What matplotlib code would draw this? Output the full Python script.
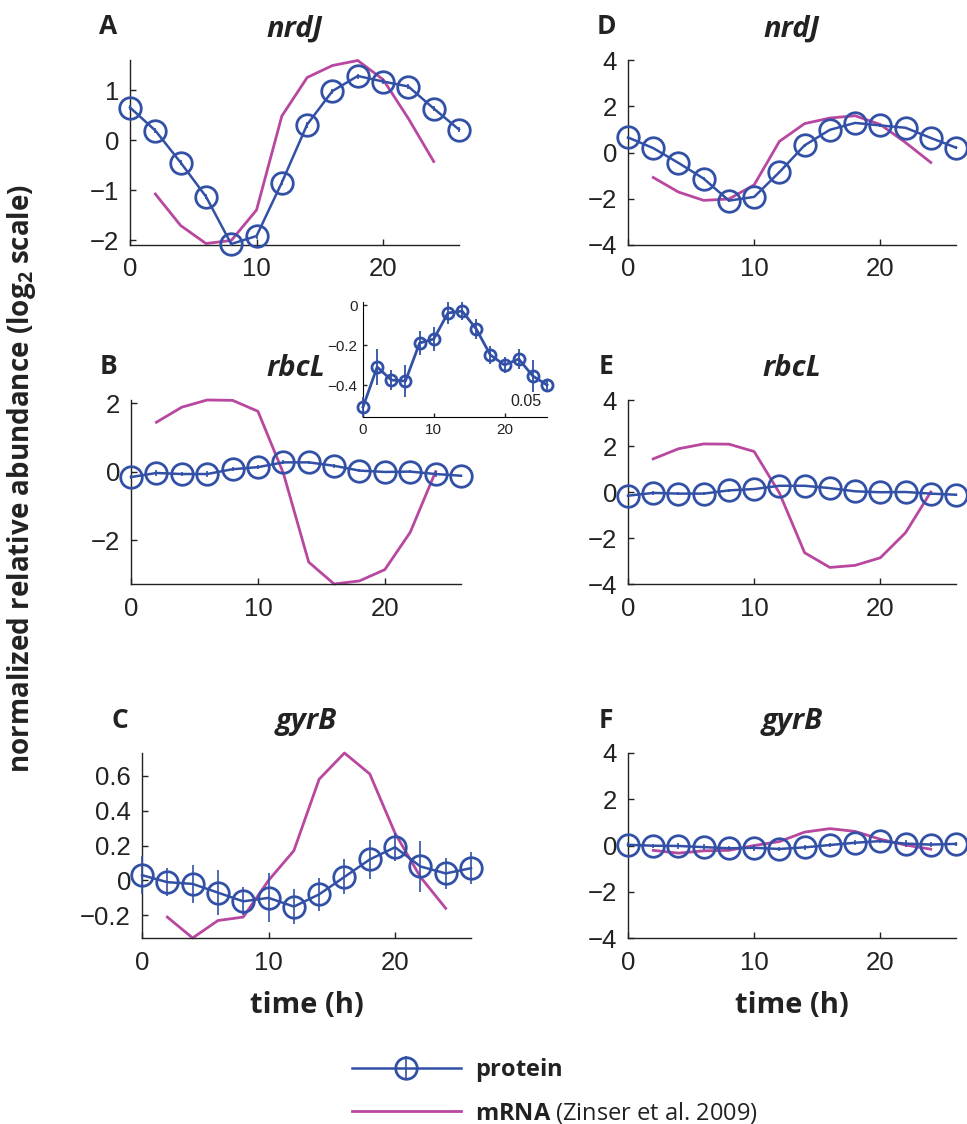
import matplotlib
matplotlib.use('Agg')
import matplotlib.pyplot as plt

# sampling times (h)
t_prot = [0, 2, 4, 6, 8, 10, 12, 14, 16, 18, 20, 22, 24, 26]
t_mrna = [2, 4, 6, 8, 10, 12, 14, 16, 18, 20, 22, 24]

# nrdJ
nrdj_prot = [0.65, 0.19, -0.45, -1.13, -2.08, -1.92, -0.85, 0.31, 0.98, 1.28, 1.17, 1.07, 0.63, 0.21]
nrdj_err = [0.05, 0.05, 0.05, 0.05, 0.04, 0.05, 0.05, 0.06, 0.05, 0.05, 0.05, 0.05, 0.05, 0.05]
nrdj_mrna = [-1.08, -1.71, -2.07, -2.01, -1.40, 0.48, 1.25, 1.49, 1.59, 1.21, 0.43, -0.43]

# rbcL
rbcl_prot = [-0.16, -0.04, -0.07, -0.07, 0.07, 0.13, 0.27, 0.27, 0.17, 0.03, -0.01, 0.0, -0.07, -0.12]
rbcl_err = [0.05, 0.09, 0.05, 0.08, 0.06, 0.06, 0.055, 0.045, 0.05, 0.045, 0.04, 0.05, 0.08, 0.03]
rbcl_mrna = [1.44, 1.88, 2.09, 2.08, 1.76, -0.04, -2.64, -3.28, -3.19, -2.86, -1.77, 0.0]

# rbcL protein, inset scale
inset_prot = [-0.51, -0.31, -0.375, -0.38, -0.19, -0.17, -0.04, -0.03, -0.12, -0.25, -0.30, -0.27, -0.355, -0.40]

# gyrB
gyrb_prot = [0.03, -0.01, -0.02, -0.07, -0.12, -0.10, -0.15, -0.08, 0.02, 0.12, 0.19, 0.08, 0.04, 0.07]
gyrb_err = [0.11, 0.08, 0.11, 0.13, 0.08, 0.14, 0.10, 0.095, 0.10, 0.11, 0.08, 0.145, 0.09, 0.09]
gyrb_mrna = [-0.21, -0.33, -0.23, -0.21, 0.0, 0.17, 0.58, 0.73, 0.61, 0.27, 0.02, -0.16]

blue = '#3251a6'
pink = '#b8479f'
ink = '#222222'
tick_font = 'Liberation Sans'
label_font = 'Open Sans'

plt.rcParams['mathtext.fontset'] = 'custom'
plt.rcParams['mathtext.rm'] = 'Open Sans'
plt.rcParams['mathtext.bf'] = 'Open Sans:bold'

W, H = 967, 1124
fig = plt.figure(figsize=(W / 100, H / 100), dpi=100)


def add_ax(left, top, right, bottom):
    return fig.add_axes([left / W, 1 - bottom / H, (right - left) / W, (bottom - top) / H])


def fmt(v):
    if v == 0:
        return '0'
    s = ('%g' % abs(v))
    return ('\u2212' + s) if v < 0 else s


def style(ax, yticks, ylim):
    ax.set_xlim(0, 26)
    ax.set_ylim(*ylim)
    ax.set_xticks([0, 10, 20])
    ax.set_yticks(yticks)
    ax.set_yticklabels([fmt(v) for v in yticks])
    for s in ['top', 'right']:
        ax.spines[s].set_visible(False)
    for s in ['left', 'bottom']:
        ax.spines[s].set_linewidth(1.0)
        ax.spines[s].set_color(ink)
    ax.tick_params(direction='in', length=4, width=1, colors=ink, labelsize=18.5)
    ax.tick_params(axis='x', pad=9)
    ax.tick_params(axis='y', pad=8)
    for lab in ax.get_xticklabels() + ax.get_yticklabels():
        lab.set_fontfamily(tick_font)


def draw(ax, prot, err, mrna, ms=15.5):
    h = ax.errorbar(t_prot, prot, yerr=err, color=blue, lw=1.8, marker='o', ms=ms,
                    mfc='none', mew=2.0, elinewidth=1.2, capsize=0, zorder=3)
    line, = ax.plot(t_mrna, mrna, color=pink, lw=2.0, zorder=2)
    return h, line


panels = [
    # letter, gene, prot, err, mrna, box, yticks, ylim
    ('A', 'nrdJ', nrdj_prot, nrdj_err, nrdj_mrna, (130, 60, 459, 245), [-2, -1, 0, 1], (-2.1, 1.6)),
    ('B', 'rbcL', rbcl_prot, rbcl_err, rbcl_mrna, (131, 400, 461, 584), [-2, 0, 2], (-3.28, 2.09)),
    ('C', 'gyrB', gyrb_prot, gyrb_err, gyrb_mrna, (142, 753, 471, 938), [-0.2, 0, 0.2, 0.4, 0.6], (-0.33, 0.73)),
    ('D', 'nrdJ', nrdj_prot, nrdj_err, nrdj_mrna, (628, 60, 956, 245), [-4, -2, 0, 2, 4], (-4, 4)),
    ('E', 'rbcL', rbcl_prot, rbcl_err, rbcl_mrna, (628, 400, 956, 584), [-4, -2, 0, 2, 4], (-4, 4)),
    ('F', 'gyrB', gyrb_prot, gyrb_err, gyrb_mrna, (628, 753, 956, 938), [-4, -2, 0, 2, 4], (-4, 4)),
]

handles = None
for letter, gene, prot, err, mrna, box, yt, yl in panels:
    ax = add_ax(*box)
    h = draw(ax, prot, err, mrna)
    if handles is None:
        handles = h
    style(ax, yt, yl)
    for art in ax.lines + ax.collections:
        art.set_clip_on(False)
    l, t, r, b = box
    fig.text((l + r) / 2 / W, 1 - (t - 31) / H, gene, fontsize=21, fontweight='bold',
             fontstyle='italic', family=label_font, ha='center', va='center', color=ink)
    fig.text((l - 22) / W, 1 - (t - 33) / H, letter, fontsize=19, fontweight='bold',
             family=label_font, ha='center', va='center', color=ink)
    if letter in ('C', 'F'):
        ax.set_xlabel('time (h)', fontsize=21, fontweight='bold', family=label_font,
                      color=ink, labelpad=12)

# inset with rbcL protein
ins = add_ax(363, 302, 547, 417)
ins.errorbar(t_prot, inset_prot, yerr=rbcl_err, color=blue, lw=2, marker='o', ms=8,
             mfc='none', mew=2.0, elinewidth=1.3, capsize=0, zorder=3)
ins.set_xlim(0, 26)
ins.set_ylim(-0.56, 0.015)
ins.set_xticks([0, 10, 20])
ins.set_yticks([-0.4, -0.2, 0])
ins.set_yticklabels([fmt(v) for v in [-0.4, -0.2, 0]])
for s in ['top', 'right']:
    ins.spines[s].set_visible(False)
ins.tick_params(direction='in', length=3, width=1, colors=ink, labelsize=11, pad=4)
for lab in ins.get_xticklabels() + ins.get_yticklabels():
    lab.set_fontfamily(tick_font)
for art in ins.lines + ins.collections:
    art.set_clip_on(False)
ins.text(0.97, 0.07, '0.05', transform=ins.transAxes, ha='right', va='bottom',
         fontsize=11.5, family=tick_font, color=ink)

fig.text(22 / W, 1 - 478 / H, r'normalized relative abundance (log$_{\mathbf{2}}$ scale)',
         rotation=90, fontsize=20, fontweight='bold', family=label_font,
         ha='center', va='center', color=ink)

leg = fig.legend(handles, [r'$\mathbf{protein}$', r'$\mathbf{mRNA}$ (Zinser et al. 2009)'],
                 loc='upper left', bbox_to_anchor=(338 / W, 1 - 1042 / H), frameon=False,
                 prop={'family': label_font, 'size': 17}, handlelength=4.6,
                 handletextpad=0.6, labelspacing=0.65, borderaxespad=0.2)
for txt in leg.get_texts():
    txt.set_color(ink)

fig.savefig('out.png', dpi=100)
